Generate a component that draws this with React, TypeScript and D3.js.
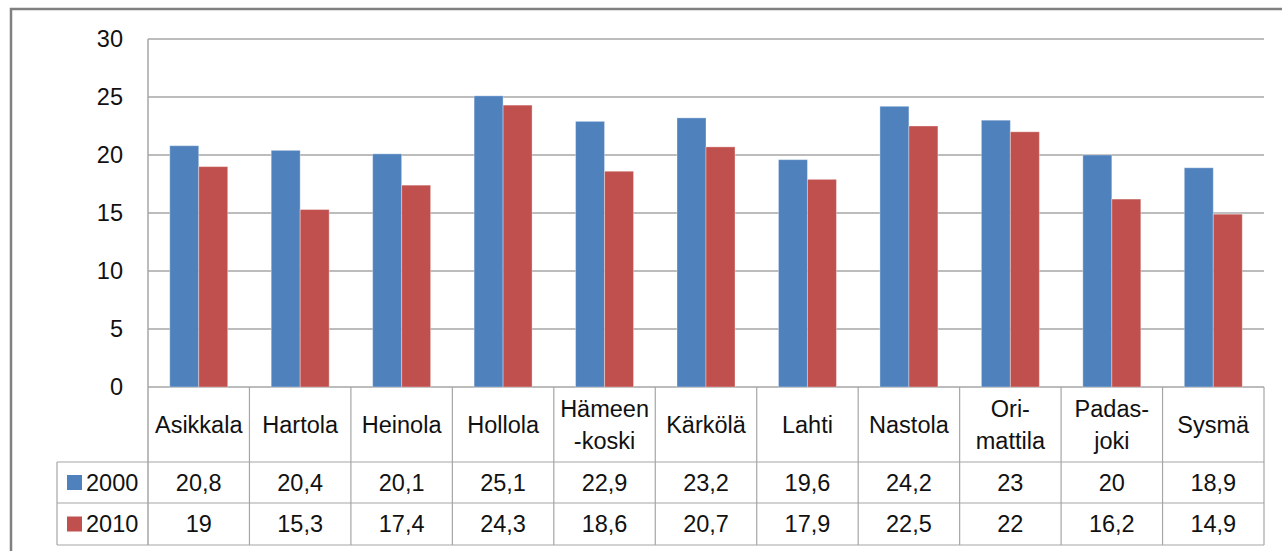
import React from "react";
import * as d3 from "d3";

const categories = ["Asikkala", "Hartola", "Heinola", "Hollola", "Hämeen\n-koski", "Kärkölä", "Lahti", "Nastola", "Ori-\nmattila", "Padas-\njoki", "Sysmä"];
const values2000 = [20.8, 20.4, 20.1, 25.1, 22.9, 23.2, 19.6, 24.2, 23, 20, 18.9];
const values2010 = [19, 15.3, 17.4, 24.3, 18.6, 20.7, 17.9, 22.5, 22, 16.2, 14.9];
const seriesNames = ["2000", "2010"];
const seriesColors = ["#4F81BD", "#C0504D"];
const yTicks = [0, 5, 10, 15, 20, 25, 30];

const W = 1282, H = 551;
const left = 148, right = 1264, top = 39, base = 387;
const rowAxisBottom = 462, row1Bottom = 503, row2Bottom = 545;
const legendLeft = 57;
const font = "'Liberation Sans', Arial, sans-serif";
const fs = 23.5;
const grid = "#A6A6A6";
const textColor = "#111";

const fmt = (v: number) => String(v).replace(".", ",");

export default function App() {
  const x = d3.scaleBand<string>().domain(categories).range([left, right]).paddingInner(0).paddingOuter(0);
  const xs = d3.scaleBand<string>().domain(seriesNames).range([0, x.bandwidth()]).paddingInner(0).paddingOuter(0.75);
  const y = d3.scaleLinear().domain([0, 30]).range([base, top]);
  const series = [values2000, values2010];
  const rowY = [(rowAxisBottom + row1Bottom) / 2, (row1Bottom + row2Bottom) / 2];

  return (
    <svg width={W} height={H} style={{ position: "absolute", left: 0, top: 0, background: "#fff" }} fontFamily={font}>
      <rect x={11} y={9} width={W + 20} height={H + 20} fill="#fff" stroke="#808080" strokeWidth={2.5} />
      {/* gridlines */}
      {yTicks.map((t) => (
        <line key={t} x1={left} x2={right} y1={y(t)} y2={y(t)} stroke={grid} strokeWidth={1.5} />
      ))}
      <line x1={left} x2={left} y1={top} y2={row2Bottom} stroke={grid} strokeWidth={1.5} />
      {yTicks.map((t) => (
        <text key={t} x={123} y={y(t)} dy="0.35em" textAnchor="end" fontSize={fs} fill={textColor}>{t}</text>
      ))}
      {/* bars */}
      {series.map((vals, si) =>
        vals.map((v, i) => (
          <rect key={si + "-" + i}
            x={(x(categories[i]) ?? 0) + (xs(seriesNames[si]) ?? 0)}
            y={y(v)} width={xs.bandwidth()} height={base - y(v)}
            fill={seriesColors[si]} stroke="#fff" strokeOpacity={0.35} strokeWidth={1} />
        ))
      )}
      {/* data table */}
      {categories.map((c, i) => {
        const x0 = x(c) ?? 0;
        return <line key={"v" + i} x1={x0 + x.bandwidth()} x2={x0 + x.bandwidth()} y1={base} y2={row2Bottom} stroke={grid} strokeWidth={1.2} />;
      })}
      {[rowAxisBottom, row1Bottom, row2Bottom].map((yy) => (
        <line key={yy} x1={legendLeft} x2={right} y1={yy} y2={yy} stroke={grid} strokeWidth={1.2} />
      ))}
      <line x1={legendLeft} x2={legendLeft} y1={rowAxisBottom} y2={row2Bottom} stroke={grid} strokeWidth={1.2} />
      {categories.map((c, i) => {
        const lines = c.split("\n");
        const cx = (x(c) ?? 0) + x.bandwidth() / 2;
        const cy = (base + rowAxisBottom) / 2;
        const lh = 32;
        return (
          <text key={"c" + i} x={cx} textAnchor="middle" fontSize={fs} fill={textColor}>
            {lines.map((l, li) => (
              <tspan key={li} x={cx} y={cy + (li - (lines.length - 1) / 2) * lh} dy="0.35em">{l}</tspan>
            ))}
          </text>
        );
      })}
      {series.map((vals, si) => (
        <g key={"r" + si}>
          <rect x={67} y={rowY[si] - 7.5} width={15} height={15} fill={seriesColors[si]} />
          <text x={86} y={rowY[si]} dy="0.35em" fontSize={fs} fill={textColor}>{seriesNames[si]}</text>
          {vals.map((v, i) => (
            <text key={i} x={(x(categories[i]) ?? 0) + x.bandwidth() / 2} y={rowY[si]} dy="0.35em" textAnchor="middle" fontSize={fs} fill={textColor}>{fmt(v)}</text>
          ))}
        </g>
      ))}
    </svg>
  );
}
